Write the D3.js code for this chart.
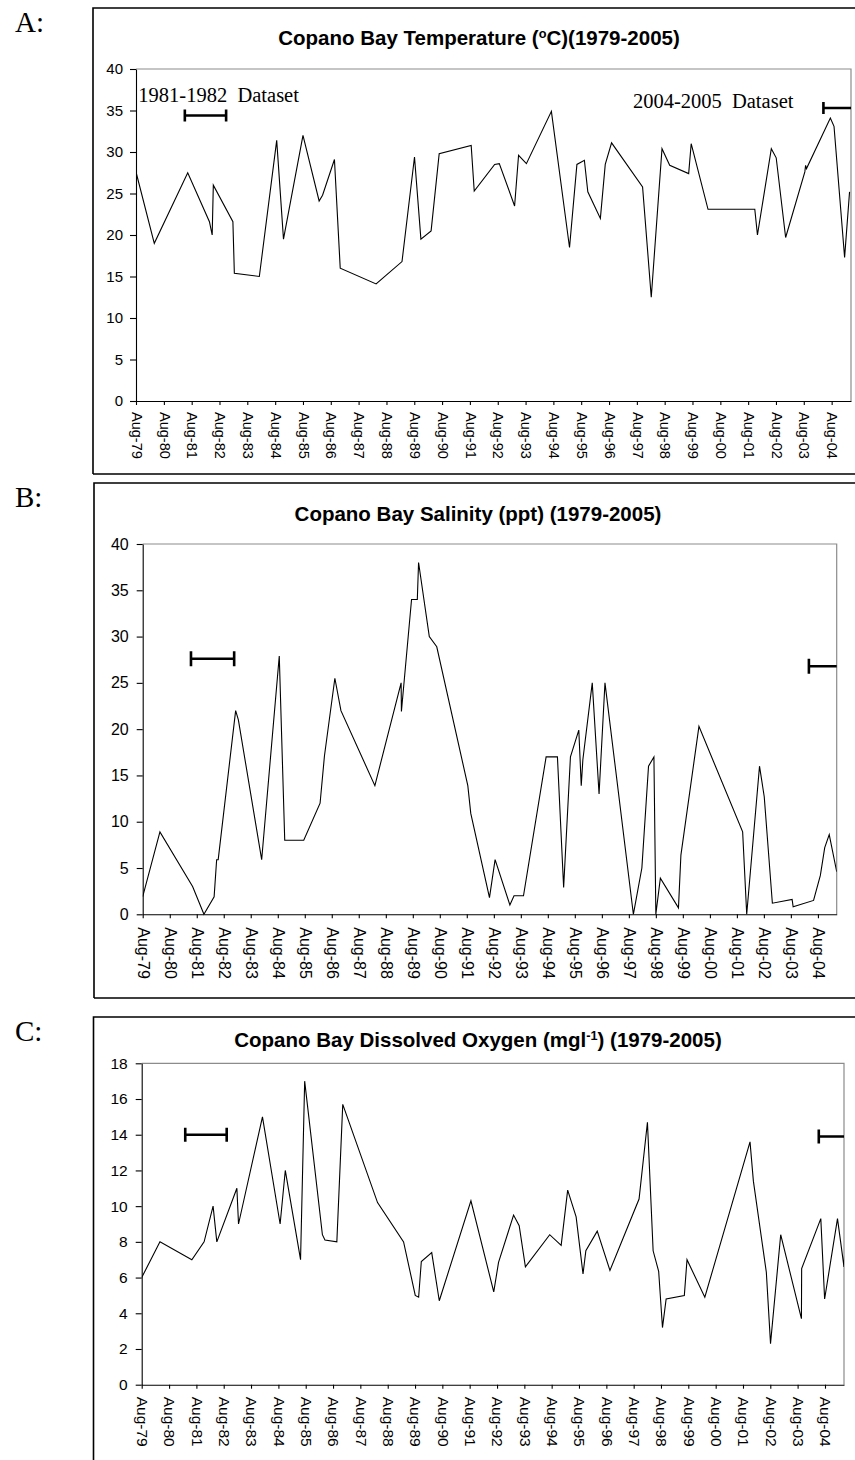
<!DOCTYPE html>
<html>
<head>
<meta charset="utf-8">
<script src="https://cdn.jsdelivr.net/npm/d3@7"></script>
<style>
  body { margin: 0; background: #fff; }
  svg { display: block; }
  .sans { font-family: "Liberation Sans", Arial, Helvetica, sans-serif; }
  .serif { font-family: "Liberation Serif", "Times New Roman", Times, serif; }
</style>
</head>
<body>
<svg id="chart" width="855" height="1460"></svg>
<script>
// ---- Copano Bay monitoring records, 1979-2005 ----

// Water temperature (deg C)
const tempDates = [
  "1979-08-01","1980-03-28","1981-06-10","1982-03-22","1982-04-27","1982-05-12",
  "1983-01-24","1983-02-12","1984-01-06","1984-08-21","1984-11-18","1985-08-01",
  "1986-03-01","1986-04-15","1986-09-18","1986-12-03","1988-03-18","1989-02-21",
  "1989-08-04","1989-10-27","1990-03-10","1990-06-24","1991-08-18","1991-09-27",
  "1992-06-21","1992-08-21","1993-03-10","1993-05-01","1993-08-12","1994-07-06",
  "1995-03-01","1995-06-06","1995-09-12","1995-10-27","1996-04-09","1996-06-12",
  "1996-09-03","1997-10-15","1998-02-06","1998-06-27","1998-10-06","1999-06-12",
  "1999-07-15","2000-02-21","2001-10-27","2001-12-01","2002-06-01","2002-08-04",
  "2002-12-06","2003-08-15","2003-08-25","2003-09-06","2004-07-15","2004-09-01",
  "2005-01-18","2005-03-24"
];
const tempValues = [
  27.6, 19.0, 27.5, 21.6, 20.0, 26.0,
  21.6, 15.4, 15.0, 31.4, 19.5, 32.0,
  24.1, 24.8, 29.1, 16.0, 14.1, 16.8,
  29.4, 19.5, 20.5, 29.8, 30.8, 25.3,
  28.5, 28.6, 23.5, 29.6, 28.6, 34.9,
  18.5, 28.5, 29.0, 25.2, 22.0, 28.5,
  31.1, 25.8, 12.5, 30.4, 28.4, 27.4,
  31.0, 23.1, 23.1, 20.0, 30.4, 29.3,
  19.7, 27.6, 28.4, 28.0, 34.1, 33.1,
  17.3, 25.2
];

// Salinity (ppt)
const salDates = [
  "1979-08-01","1980-03-21","1981-06-06","1981-11-06","1982-03-24","1982-04-27",
  "1982-05-18","1983-01-09","1983-02-15","1983-12-27","1984-08-21","1984-11-03",
  "1985-07-18","1986-02-24","1986-04-24","1986-09-12","1986-12-03","1988-03-06",
  "1989-02-24","1989-02-28","1989-07-15","1989-10-01","1989-10-18","1990-03-12",
  "1990-06-21","1991-08-15","1991-09-24","1992-06-03","1992-08-18","1993-03-06",
  "1993-05-01","1993-09-06","1994-07-09","1994-12-09","1995-03-03","1995-06-03",
  "1995-09-24","1995-10-27","1995-11-18","1996-03-24","1996-06-24","1996-09-12",
  "1997-10-01","1998-01-24","1998-04-24","1998-07-06","1998-08-01","1998-10-01",
  "1999-06-03","1999-07-06","2000-03-06","2001-10-18","2001-12-12","2002-06-03",
  "2002-08-06","2002-11-24","2003-08-18","2003-09-01","2004-06-03","2004-09-03",
  "2004-11-01","2005-01-01","2005-04-12"
];
const salValues = [
  1.9, 8.9, 3.0, 0.0, 1.9, 5.9,
  5.9, 22.0, 21.0, 5.9, 27.9, 8.0,
  8.0, 12.0, 17.1, 25.5, 22.0, 13.9,
  25.0, 21.9, 34.0, 34.0, 38.0, 30.0,
  28.9, 13.9, 10.9, 1.8, 5.9, 1.0,
  2.0, 2.0, 17.0, 17.0, 2.9, 17.0,
  19.9, 13.9, 16.7, 25.0, 13.0, 25.0,
  0.0, 5.0, 16.0, 17.0, 0.0, 3.9,
  0.7, 6.4, 20.3, 8.9, 0.0, 16.0,
  12.7, 1.2, 1.6, 0.8, 1.5, 4.2,
  7.2, 8.6, 4.6
];

// Dissolved oxygen (mg/l)
const doDates = [
  "1979-08-01","1980-04-01","1981-06-01","1981-11-12","1982-03-12","1982-05-01",
  "1983-01-24","1983-02-15","1984-01-01","1984-08-24","1984-11-01","1985-05-24",
  "1985-07-18","1986-03-12","1986-04-15","1986-09-21","1986-12-09","1988-03-18",
  "1989-03-01","1989-08-04","1989-09-18","1989-10-24","1990-03-12","1990-06-21",
  "1991-08-18","1992-06-18","1992-08-21","1993-03-10","1993-05-24","1993-08-15",
  "1994-07-06","1994-12-06","1995-03-03","1995-06-24","1995-09-24","1995-11-01",
  "1996-04-01","1996-09-18","1997-10-12","1998-02-01","1998-04-18","1998-07-01",
  "1998-08-21","1998-10-09","1999-06-09","1999-07-15","2000-03-09","2001-11-03",
  "2001-12-18","2002-06-09","2002-08-04","2002-12-18","2003-09-21","2003-09-24",
  "2004-06-06","2004-07-27","2005-01-15","2005-04-12","2005-05-01"
];
const doValues = [
  6.0, 8.0, 7.0, 8.0, 10.0, 8.0,
  11.0, 9.0, 15.0, 9.0, 12.0, 7.0,
  17.0, 8.4, 8.1, 8.0, 15.7, 10.2,
  8.0, 5.0, 4.9, 6.9, 7.4, 4.7,
  10.3, 5.2, 6.85, 9.5, 8.9, 6.6,
  8.4, 7.8, 10.9, 9.4, 6.2, 7.5,
  8.6, 6.4, 10.4, 14.7, 7.5, 6.35,
  3.2, 4.8, 5.0, 7.0, 4.9, 13.6,
  11.4, 6.3, 2.3, 8.4, 3.7, 6.5,
  9.3, 4.8, 9.3, 6.6, 8.4
];

// Axis ticks
const xTickYears = d3.range(1979, 2005);          // Aug-79 ... Aug-04
const xDomain = ["1979-08-01", "2005-04-12"];
const tempTicks = [0, 5, 10, 15, 20, 25, 30, 35, 40];
const salTicks = [0, 5, 10, 15, 20, 25, 30, 35, 40];
const doTicks = [0, 2, 4, 6, 8, 10, 12, 14, 16, 18];

// Sampling-campaign brackets: [start, end] (end null = runs to the axis end) and level
const tempBrackets = [["1981-05-03", "1982-10-27"], ["2004-04-15", null]];
const tempBracketLevels = [34.4, 35.3];
const salBrackets = [["1981-05-15", "1982-12-20"], ["2004-04-01", null]];
const salBracketLevels = [27.6, 26.8];
const doBrackets = [["1981-03-05", "1982-09-10"], ["2004-05-10", null]];
const doBracketLevels = [14.0, 13.9];
const bracketNames = ["1981-1982  Dataset", "2004-2005  Dataset"];

// ---- drawing ----
const parse = d3.timeParse("%Y-%m-%d");
const svg = d3.select("#chart");
const fmt = d3.timeFormat("%b-%y");

const panels = [
  {
    letter: "A:", letterY: 32,
    box: { x: 93, y: 8, bottom: 474 },
    plot: { l: 136, r: 851, t: 69, b: 401 },
    titleY: 45, titleX: 479,
    title: [["Copano Bay Temperature (", false], ["o", true], ["C)(1979-2005)", false]],
    dates: tempDates, values: tempValues, ticks: tempTicks, yMax: 40,
    brackets: tempBrackets, levels: tempBracketLevels, capH: 12,
    names: true, yFont: 15, xFont: 14.5, tickPad: 7, xLabelGap: 11
  },
  {
    letter: "B:", letterY: 507,
    box: { x: 94, y: 483, bottom: 998 },
    plot: { l: 142.7, r: 836.7, t: 544, b: 914.3 },
    titleY: 521, titleX: 478,
    title: [["Copano Bay Salinity (ppt) (1979-2005)", false]],
    dates: salDates, values: salValues, ticks: salTicks, yMax: 40,
    brackets: salBrackets, levels: salBracketLevels, capH: 15,
    names: false, yFont: 16, xFont: 16, tickPad: 8, xLabelGap: 13
  },
  {
    letter: "C:", letterY: 1041,
    box: { x: 93.5, y: 1017, bottom: 1475 },
    plot: { l: 141.7, r: 844, t: 1063.3, b: 1384.7 },
    titleY: 1047, titleX: 478,
    title: [["Copano Bay Dissolved Oxygen (mgl", false], ["-1", true], [") (1979-2005)", false]],
    dates: doDates, values: doValues, ticks: doTicks, yMax: 18,
    brackets: doBrackets, levels: doBracketLevels, capH: 14,
    names: false, yFont: 15.5, xFont: 15.5, tickPad: 8, xLabelGap: 12
  }
];

panels.forEach((p, i) => {
  const g = svg.append("g");

  // outer frame (runs past the right edge of the page)
  g.append("path")
    .attr("d", `M${p.box.x},${p.box.bottom} V${p.box.y} H${870} M${p.box.x},${p.box.bottom} H${870}`)
    .attr("fill", "none").attr("stroke", "#000").attr("stroke-width", 1.6);

  // panel letter
  g.append("text").attr("class", "serif")
    .attr("x", 15).attr("y", p.letterY)
    .attr("font-size", 29).text(p.letter);

  const x = d3.scaleTime().domain(xDomain.map(parse)).range([p.plot.l, p.plot.r]);
  const y = d3.scaleLinear().domain([0, p.yMax]).range([p.plot.b, p.plot.t]);

  // title, with superscripts
  const t = g.append("text").attr("class", "sans")
    .attr("x", p.titleX).attr("y", p.titleY)
    .attr("text-anchor", "middle").attr("font-weight", "bold").attr("font-size", 20.5);
  p.title.forEach(([s, sup], k) => {
    const ts = t.append("tspan").text(s);
    if (sup) ts.attr("font-size", "0.62em").attr("dy", "-0.55em");
    else if (k > 0 && p.title[k - 1][1]) ts.attr("dy", "0.34em");
  });

  // plot-area border (top and right, grey)
  g.append("path")
    .attr("d", `M${p.plot.l},${p.plot.t} H${p.plot.r} V${p.plot.b}`)
    .attr("fill", "none").attr("stroke", "#8c8c8c").attr("stroke-width", 1.2);

  // y axis
  const ya = g.append("g").attr("class", "sans")
    .attr("transform", `translate(${p.plot.l},0)`)
    .call(d3.axisLeft(y).tickValues(p.ticks).tickSize(6).tickSizeOuter(0).tickPadding(p.tickPad));
  ya.selectAll("text").attr("font-size", p.yFont).attr("fill", "#000")
    .attr("font-family", '"Liberation Sans", Arial, sans-serif');
  ya.selectAll("line,path").attr("stroke", "#000").attr("stroke-width", 1.1);

  // x axis with rotated month labels
  const xa = g.append("g")
    .attr("transform", `translate(0,${p.plot.b})`)
    .call(d3.axisBottom(x).tickValues(xTickYears.map(yr => new Date(yr, 7, 1)))
      .tickSize(4).tickSizeOuter(0).tickFormat(fmt));
  xa.selectAll("line,path").attr("stroke", "#000").attr("stroke-width", 1.1);
  xa.selectAll("text")
    .attr("font-family", '"Liberation Sans", Arial, sans-serif')
    .attr("font-size", p.xFont).attr("fill", "#000")
    .attr("transform", "rotate(90)")
    .attr("x", p.xLabelGap).attr("y", 0).attr("dy", "0.33em")
    .attr("text-anchor", "start");

  // series line
  const clipId = "clip" + i;
  g.append("clipPath").attr("id", clipId).append("rect")
    .attr("x", p.plot.l).attr("y", p.plot.t - 2)
    .attr("width", p.plot.r - p.plot.l).attr("height", p.plot.b - p.plot.t + 4);
  const pts = p.dates.map((d, k) => [parse(d), p.values[k]]);
  g.append("path")
    .attr("clip-path", `url(#${clipId})`)
    .attr("d", d3.line().x(d => x(d[0])).y(d => y(d[1]))(pts))
    .attr("fill", "none").attr("stroke", "#000").attr("stroke-width", 1.1)
    .attr("stroke-linejoin", "miter");

  // dataset brackets
  p.brackets.forEach((br, k) => {
    const x0 = x(parse(br[0]));
    const x1 = br[1] ? x(parse(br[1])) : p.plot.r;
    const yy = y(p.levels[k]);
    let d = `M${x0},${yy} H${x1} M${x0},${yy - p.capH / 2} V${yy + p.capH / 2}`;
    if (br[1]) d += ` M${x1},${yy - p.capH / 2} V${yy + p.capH / 2}`;
    g.append("path").attr("d", d)
      .attr("fill", "none").attr("stroke", "#000").attr("stroke-width", 2.6);
  });

  // dataset names (temperature panel only)
  if (p.names) {
    g.append("text").attr("class", "serif")
      .attr("x", x(parse("1979-09-01"))).attr("y", y(36.05))
      .attr("font-size", 20.5).style("white-space", "pre")
      .text(bracketNames[0]);
    g.append("text").attr("class", "serif")
      .attr("x", x(parse(p.brackets[1][0])) - 30).attr("y", y(35.25))
      .attr("text-anchor", "end")
      .attr("font-size", 20.5).style("white-space", "pre")
      .text(bracketNames[1]);
  }
});
</script>
</body>
</html>
